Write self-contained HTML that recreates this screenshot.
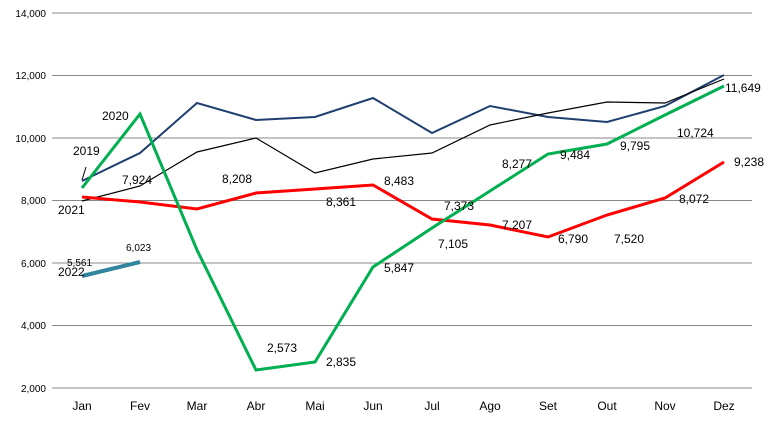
<!DOCTYPE html>
<html><head><meta charset="utf-8"><style>body{margin:0;background:#fff}svg{display:block}text{font-family:"Liberation Sans",sans-serif;font-size:12px;fill:#000}</style></head><body>
<svg width="768" height="422" viewBox="0 0 768 422" xmlns="http://www.w3.org/2000/svg">
<g stroke="#888" stroke-width="1">
<line x1="52" y1="13" x2="752" y2="13"/><line x1="52" y1="75.5" x2="752" y2="75.5"/><line x1="52" y1="138" x2="752" y2="138"/><line x1="52" y1="200.5" x2="752" y2="200.5"/><line x1="52" y1="263" x2="752" y2="263"/><line x1="52" y1="325.5" x2="752" y2="325.5"/><line x1="52" y1="388" x2="752" y2="388"/>
</g>
<g font-size="10" text-anchor="end">
<text x="46" y="17" style="font-size:10px">14,000</text><text x="46" y="79" style="font-size:10px">12,000</text><text x="46" y="142" style="font-size:10px">10,000</text><text x="46" y="204" style="font-size:10px">8,000</text><text x="46" y="267" style="font-size:10px">6,000</text><text x="46" y="329" style="font-size:10px">4,000</text><text x="46" y="392" style="font-size:10px">2,000</text>
</g>
<g text-anchor="middle">
<text x="82" y="410">Jan</text><text x="140" y="410">Fev</text><text x="197" y="410">Mar</text><text x="256" y="410">Abr</text><text x="315" y="410">Mai</text><text x="373" y="410">Jun</text><text x="432" y="410">Jul</text><text x="490" y="410">Ago</text><text x="548" y="410">Set</text><text x="607" y="410">Out</text><text x="665" y="410">Nov</text><text x="724" y="410">Dez</text>
</g>
<polyline fill="none" stroke="#1f3f6f" stroke-width="2" points="82,181 140,153 197,103 256,120 315,117 373,98 432,133 490,106 548,117 607,122 665,106 724,75"/>
<polyline fill="none" stroke="#000" stroke-width="1.2" points="82,201 140,186 197,152 256,138 315,173 373,159 432,153 490,125 548,113 607,102 665,103 724,79"/>
<polyline fill="none" stroke="#ff0000" stroke-width="3" points="82,197 140,202 197,209 256,193 315,189 373,185 432,219 490,225 548,237 607,215 665,198 724,162"/>
<polyline fill="none" stroke="#00b050" stroke-width="3" points="82,188 140,114 197,250 256,370 315,362 373,267 432,228 490,191 548,154 607,144 665,115 724,86"/>
<polyline fill="none" stroke="#31859c" stroke-width="4" points="82,276 140,262"/>
<line x1="82" y1="180" x2="86" y2="167" stroke="#000"/>
<text x="73" y="155">2019</text><text x="102" y="120">2020</text><text x="58" y="214">2021</text><text x="58" y="276">2022</text>
<text x="67" y="266" style="font-size:10px">5,561</text><text x="126" y="251" style="font-size:10px">6,023</text>
<text x="122" y="184">7,924</text><text x="222" y="183">8,208</text><text x="326" y="206">8,361</text><text x="384" y="185">8,483</text>
<text x="444" y="210">7,373</text><text x="502" y="229">7,207</text><text x="558" y="243">6,790</text><text x="614" y="243">7,520</text><text x="679" y="203">8,072</text><text x="734" y="166">9,238</text>
<text x="267" y="352">2,573</text><text x="326" y="366">2,835</text><text x="384" y="272">5,847</text><text x="438" y="248">7,105</text><text x="502" y="168">8,277</text><text x="560" y="159">9,484</text><text x="620" y="150">9,795</text><text x="677" y="137">10,724</text><text x="725" y="92">11,649</text>
</svg>
</body></html>
